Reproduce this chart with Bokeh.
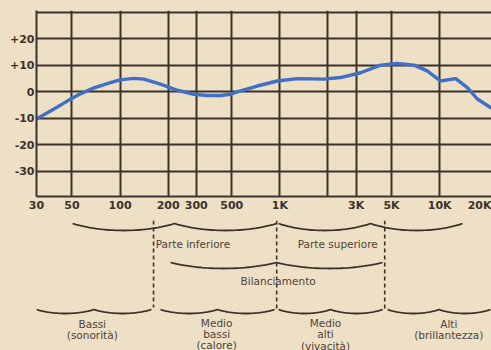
import numpy as np
from bokeh.plotting import figure
from bokeh.layouts import column
from bokeh.models import Range1d, FixedTicker, GlobalInlineStyleSheet
from bokeh.core.properties import value
from bokeh.embed import file_html
from bokeh.resources import INLINE

# ---- data ----
freq_hz = [30, 37, 47, 55, 68, 87, 100, 122, 141, 179, 228, 290, 351, 426, 491,
           568, 722, 963, 1285, 1885, 2400, 3200, 4270, 5430, 6900, 8360,
           10100, 12600, 14900, 17200, 20800]
level_db = [-10.2, -7.1, -3.4, -1.1, 1.4, 3.5, 4.5, 5.1, 4.8, 2.9, 0.6, -0.9,
            -1.4, -1.4, -0.9, 0.4, 2.2, 4.1, 5.0, 4.8, 5.4, 7.2, 10.1, 10.7,
            10.1, 7.9, 4.1, 5.0, 1.6, -2.7, -5.9]

x_tick_values = [30, 50, 100, 200, 300, 500, 1000, 3000, 5000, 10000, 20000]
x_tick_labels = ["30", "50", "100", "200", "300", "500", "1K", "3K", "5K", "10K", "20K"]
x_grid_values = [50, 100, 200, 300, 500, 1000, 2000, 3000, 5000, 10000]
y_tick_values = [-30, -20, -10, 0, 10, 20]
y_tick_labels = ["-30", "-20", "-10", "0", "+10", "+20"]
y_grid_values = [-30, -20, -10, 0, 10, 20, 30]

PAPER = "#eee0c5"
INK = "#3b322c"
TEXT = "#4d433b"
BLUE = "#3f6fc6"

xr = Range1d(30, 21100)

top = figure(width=491, height=220, x_axis_type="log", x_range=xr,
             y_range=Range1d(-39.5, 30.7), output_backend="svg",
             toolbar_location=None, min_border_left=36, min_border_right=0,
             min_border_top=10, min_border_bottom=24,
             background_fill_color=PAPER, border_fill_color=PAPER,
             outline_line_color=None)

for ax in (top.xaxis[0], top.yaxis[0]):
    ax.major_tick_line_color = None
    ax.minor_tick_line_color = None
    ax.major_tick_out = 0
    ax.major_tick_in = 0
    ax.minor_tick_out = 0
    ax.minor_tick_in = 0
    ax.axis_line_color = INK
    ax.axis_line_width = 2
    ax.major_label_text_font = "DejaVu Sans"
    ax.major_label_text_font_style = "bold"
    ax.major_label_text_font_size = "11px"
    ax.major_label_text_color = INK
    ax.major_label_standoff = 2

top.xaxis.ticker = FixedTicker(ticks=x_tick_values)
top.xaxis.major_label_overrides = {v: s for v, s in zip(x_tick_values, x_tick_labels)}
top.yaxis.ticker = FixedTicker(ticks=y_tick_values)
top.yaxis.major_label_overrides = {v: s for v, s in zip(y_tick_values, y_tick_labels)}

top.xgrid.ticker = FixedTicker(ticks=x_grid_values)
top.ygrid.ticker = FixedTicker(ticks=y_grid_values)
for g in (top.xgrid[0], top.ygrid[0]):
    g.grid_line_color = INK
    g.grid_line_width = 2
    g.grid_line_alpha = 1.0

top.line(freq_hz, level_db, line_color=BLUE, line_width=3.4, line_join="round",
         line_cap="round")

# ---- annotation panel below the chart ----
bot = figure(width=491, height=130, x_axis_type="log", x_range=xr,
             y_range=Range1d(350, 220), output_backend="svg",
             toolbar_location=None, min_border_left=36, min_border_right=0,
             min_border_top=0, min_border_bottom=0,
             x_axis_location=None, y_axis_location=None,
             background_fill_color=PAPER, border_fill_color=PAPER,
             outline_line_color=None)
bot.grid.visible = False


def brace(x0, x1, y, sag):
    u = np.linspace(0, 1, 61)
    lx = np.log10(x0) + (np.log10(x1) - np.log10(x0)) * u
    yy = y + sag * np.abs(np.sin(2 * np.pi * u)) ** 0.8
    return list(10 ** lx), list(yy)


braces = [
    (50.5, 953, 223, 7),
    (982, 13900, 223, 7),
    (207, 4390, 262, 6),
    (30, 157, 309, 4),
    (179, 927, 309, 4),
    (982, 4390, 309, 4),
    (4720, 20800, 309, 4),
]
bx, by = [], []
for b in braces:
    xs, ys = brace(*b)
    bx.append(xs)
    by.append(ys)
bot.multi_line(bx, by, line_color=INK, line_width=1.8)

bot.segment(x0=[162, 955, 4530], y0=[220, 220, 220],
            x1=[162, 955, 4530], y1=[307, 308, 308],
            line_color=INK, line_width=1.6, line_dash="4 3")

tf = value("DejaVu Sans")
bot.text(x=[167, 1294], y=[243, 243], text=["Parte inferiore", "Parte superiore"],
         text_align="left", text_baseline="middle", text_font=tf,
         text_font_size="10.5px", text_color=TEXT)
bot.text(x=[975], y=[280], text=["Bilanciamento"], text_align="center",
         text_baseline="middle", text_font=tf, text_font_size="10.5px",
         text_color=TEXT)
bot.text(x=[67, 67, 402, 402, 402, 1930, 1930, 1930, 11400, 11400],
         y=[323, 334, 322, 333, 344, 322, 333, 345, 323, 334],
         text=["Bassi", "(sonorità)", "Medio", "bassi", "(calore)",
               "Medio", "alti", "(vivacità)", "Alti", "(brillantezza)"],
         text_align="center", text_baseline="middle", text_font=tf,
         text_font_size="10.5px", text_color=TEXT)

layout = column(top, bot, stylesheets=[GlobalInlineStyleSheet(css="body{background:#eee0c5;}")])

open("out.html", "w").write(file_html(layout, INLINE))
